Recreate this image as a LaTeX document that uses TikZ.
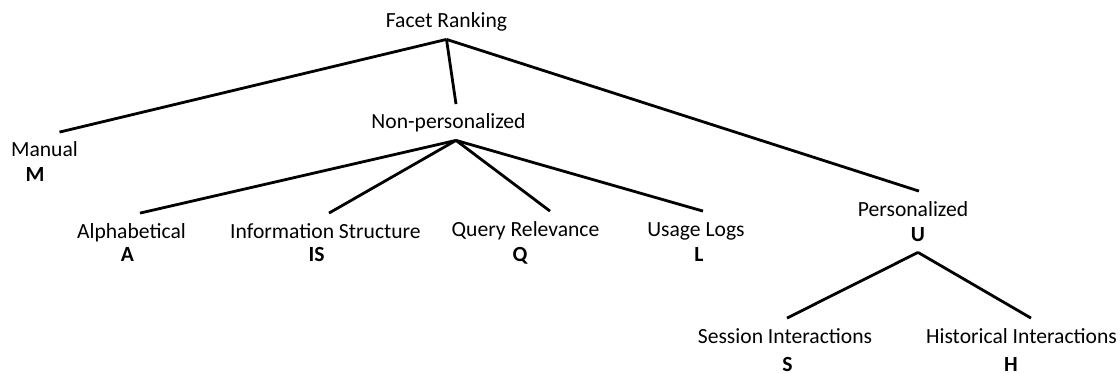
\documentclass[tikz,border=0pt]{standalone}
\usepackage{fontspec}
\setmainfont{Carlito}
\usetikzlibrary{positioning}

\begin{document}
\begin{tikzpicture}[x=0.5pt, y=-0.5pt,
    facet/.style={anchor=base, inner xsep=0pt, inner ysep=2.75pt,
                  text height=9.5pt, text depth=2.75pt,
                  font=\fontsize{10.8}{13}\selectfont},
    code/.style={facet, inner ysep=0pt, text height=7pt, text depth=0pt,
                 font=\fontsize{10.8}{13}\selectfont\bfseries},
    branch/.style={line width=1.4pt}]
  \useasboundingbox (0,0) rectangle (1120,374);

  % top level
  \node[facet] (fr) at (446.5,28) {Facet Ranking};
  \node[facet] (man) at (44.5,157) {Manual};
  \node[code]  (m) at (35,182) {M};
  \node[facet] (np) at (448.5,129) {Non-personalized};
  \node[facet] (per) at (913,216) {Personalized};
  \node[code]  (u) at (918,242) {U};

  % non-personalized
  \node[facet] (alp) at (131.5,238) {Alphabetical};
  \node[code]  (a) at (127.5,262) {A};
  \node[facet] (inf) at (325.5,238) {Information Structure};
  \node[code]  (is) at (316.5,262) {IS};
  \node[facet] (qry) at (525.5,236) {Query Relevance};
  \node[code]  (q) at (520,261) {Q};
  \node[facet] (usg) at (696,236) {Usage Logs};
  \node[code]  (l) at (699,262) {L};

  % personalized
  \node[facet] (ses) at (785,343) {Session Interactions};
  \node[code]  (s) at (787.5,371) {S};
  \node[facet] (his) at (1021.5,343) {Historical Interactions};
  \node[code]  (h) at (1011,371) {H};

  \draw[branch] ([xshift=7.5pt]man.north) -- (fr.south);
  \draw[branch] (fr.south) -- ([xshift=3.75pt]np.north);
  \draw[branch] (fr.south) -- ([xshift=3pt]per.north);

  \draw[branch] ([xshift=4.25pt]alp.north) -- ([xshift=3.75pt]np.south);
  \draw[branch] ([xshift=1.75pt]inf.north) -- ([xshift=3.75pt]np.south);
  \draw[branch] ([xshift=3.75pt]np.south) -- ([xshift=12.25pt]qry.north);
  \draw[branch] ([xshift=3.75pt]np.south) -- ([xshift=3.5pt]usg.north);

  \draw[branch] ([xshift=1pt]ses.north) -- ([yshift=-5pt]u.south);
  \draw[branch] ([yshift=-5pt]u.south) -- ([xshift=4.75pt]his.north);
\end{tikzpicture}
\end{document}
